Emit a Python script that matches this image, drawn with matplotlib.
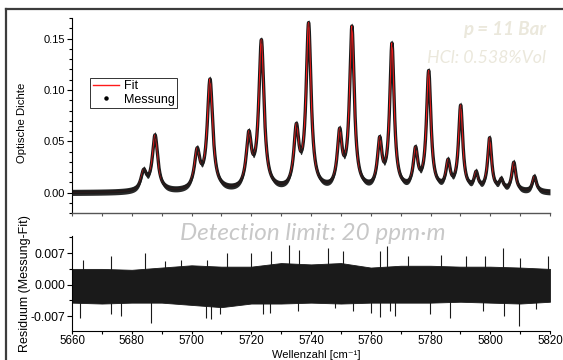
import numpy as np
import matplotlib
matplotlib.use("Agg")
import matplotlib.pyplot as plt
from matplotlib.lines import Line2D
from matplotlib.ticker import MultipleLocator

plt.rcParams["font.family"] = ["Liberation Sans", "DejaVu Sans"]

# ---- data -----------------------------------------------------------------
# absorption lines of the fit (centre [cm-1], amplitude, half width [cm-1])
peak_centers = [5684.0, 5687.8, 5701.9, 5706.2, 5719.2, 5723.4, 5735.1, 5739.2,
                5749.6, 5753.7, 5763.0, 5767.1, 5775.0, 5779.4, 5785.9, 5790.1,
                5795.3, 5799.8, 5803.7, 5807.9, 5814.8]
peak_heights = [0.018, 0.054, 0.036, 0.107, 0.050, 0.144, 0.056, 0.160,
                0.052, 0.157, 0.045, 0.141, 0.037, 0.115, 0.026, 0.082,
                0.016, 0.051, 0.010, 0.028, 0.015]
peak_widths = [1.1, 1.1, 1.1, 1.1, 1.05, 1.05, 1.0, 1.0,
               0.95, 0.95, 0.9, 0.9, 0.9, 0.9, 0.85, 0.85,
               0.8, 0.8, 0.8, 0.8, 0.8]
meas_noise = 0.003           # half thickness of the measured-points band

# residual: dense band envelope
env_wn = [5660, 5670, 5680, 5690, 5700, 5710, 5720, 5730, 5740,
          5750, 5760, 5770, 5780, 5790, 5800, 5810, 5820]
env_hi = [0.0035, 0.0035, 0.0033, 0.0038, 0.0043, 0.0040, 0.0040, 0.0048, 0.0045,
          0.0048, 0.0038, 0.0042, 0.0042, 0.0040, 0.0040, 0.0038, 0.0035]
env_lo = [-0.0040, -0.0042, -0.0040, -0.0040, -0.0045, -0.0050, -0.0042, -0.0042, -0.0040,
          -0.0042, -0.0040, -0.0040, -0.0040, -0.0038, -0.0040, -0.0042, -0.0038]
# residual: individual spikes
spike_wn = [5663.7, 5673.0, 5684.3, 5691.0, 5696.6, 5705.3, 5712.0,
            5662.6, 5673.2, 5676.3, 5686.5, 5705.0, 5706.6, 5709.4,
            5720.0, 5726.5, 5732.6, 5736.0, 5745.7, 5750.7, 5763.0, 5765.5,
            5724.0, 5726.2, 5735.6, 5748.0, 5754.0, 5760.2, 5763.2, 5766.3,
            5772.5, 5783.6, 5792.0, 5798.1, 5804.3, 5809.9, 5819.3,
            5768.0, 5779.7, 5786.4, 5797.6, 5804.5, 5809.6, 5815.4]
spike_val = [0.0055, 0.0063, 0.0070, 0.0052, 0.0055, 0.0055, 0.0070,
             -0.0074, -0.0066, -0.0070, -0.0085, -0.0074, -0.0077, -0.0066,
             0.0070, 0.0074, 0.0088, 0.0077, 0.0082, 0.0074, 0.0074, 0.0085,
             -0.0066, -0.0063, -0.0059, -0.0052, -0.0059, -0.0063, -0.0072, -0.0059,
             0.0063, 0.0066, 0.0063, 0.0063, 0.0081, 0.0059, 0.0063,
             -0.0070, -0.0066, -0.0074, -0.0059, -0.0070, -0.0092, -0.0055]

x_ticks = [5660, 5680, 5700, 5720, 5740, 5760, 5780, 5800, 5820]
top_yticks = [0.00, 0.05, 0.10, 0.15]
bot_yticks = [-0.007, 0.000, 0.007]

# ---- model curve of the fit ----------------------------------------------
wn = np.linspace(x_ticks[0], x_ticks[-1], 4001)
fit = np.zeros_like(wn)
for c, h, g in zip(peak_centers, peak_heights, peak_widths):
    fit += h / (1.0 + ((wn - c) / g) ** 2)

# ---- figure ---------------------------------------------------------------
fig = plt.figure(figsize=(5.63, 3.60), dpi=100)
W, H = 563.0, 360.0

def rect(l, t, r, b):
    return [l / W, 1 - b / H, (r - l) / W, (b - t) / H]

ax1 = fig.add_axes(rect(72, 18, 550, 213.3))
ax2 = fig.add_axes(rect(72, 236.5, 550, 331))

# figure frame (left and top)
fig.add_artist(Line2D([6 / W, 6 / W], [0, 1 - 9 / H], transform=fig.transFigure,
                      color="#3c3c3c", lw=1.6))
fig.add_artist(Line2D([6 / W, 1.0], [1 - 9 / H, 1 - 9 / H], transform=fig.transFigure,
                      color="#3c3c3c", lw=1.6))

# top panel
ax1.plot(wn, fit, color="#1a1a1a", lw=2.4, zorder=1)
ax1.plot(wn, fit, color="#ff1a1a", lw=0.8, zorder=2)
ax1.fill_between(wn, fit - meas_noise, fit + meas_noise, color="#1a1a1a",
                 lw=0, alpha=0.93, zorder=3)
ax1.set_xlim(x_ticks[0], x_ticks[-1])
ax1.set_ylim(-0.02, 0.17)
ax1.set_yticks(top_yticks)
ax1.set_yticklabels(["0.00", "0.05", "0.10", "0.15"])
ax1.yaxis.set_minor_locator(MultipleLocator(0.01))
ax1.xaxis.set_major_locator(MultipleLocator(10))
ax1.tick_params(axis="x", which="both", direction="out", length=2.5, width=0.8,
                labelbottom=False, color="#555555")
ax1.tick_params(axis="y", which="major", direction="out", length=3.5, width=0.8,
                labelsize=8, pad=1.5)
ax1.tick_params(axis="y", which="minor", direction="out", length=2.2, width=0.8)
for s in ("top", "right"):
    ax1.spines[s].set_visible(False)
ax1.spines["left"].set_linewidth(0.8)
ax1.spines["bottom"].set_linewidth(1.0)
ax1.spines["bottom"].set_color("#555555")

h_fit = Line2D([], [], color="#ff1a1a", lw=1.0)
h_meas = Line2D([], [], color="black", marker="o", ms=2.2, lw=0)
leg = ax1.legend([h_fit, h_meas], ["Fit", "Messung"], loc="upper left",
                 bbox_to_anchor=(0.0377, 0.694), fontsize=9, frameon=True,
                 fancybox=False, borderpad=0.2, labelspacing=0.1,
                 handlelength=2.1, handletextpad=0.4, borderaxespad=0)
leg.get_frame().set_edgecolor("black")
leg.get_frame().set_linewidth(0.7)

# bottom panel
ax2.fill_between(env_wn, env_lo, env_hi, color="#1a1a1a", lw=0.6,
                 edgecolor="#1a1a1a")
ax2.vlines(spike_wn, 0, spike_val, color="#1a1a1a", lw=0.8)
ax2.set_xlim(x_ticks[0], x_ticks[-1])
ax2.set_ylim(-0.0103, 0.0107)
ax2.set_xticks(x_ticks)
ax2.xaxis.set_minor_locator(MultipleLocator(10))
ax2.set_yticks(bot_yticks)
ax2.set_yticklabels(["-0.007", "0.000", "0.007"])
ax2.yaxis.set_minor_locator(MultipleLocator(0.0035))
ax2.tick_params(axis="y", which="major", direction="out", length=3.5, width=0.8,
                labelsize=8.8, pad=1.5)
ax2.tick_params(axis="x", which="major", direction="out", length=2.5, width=0.8,
                labelsize=8.3, pad=0.3)
ax2.tick_params(axis="both", which="minor", direction="out", length=2.2, width=0.8)
for s in ("top", "right"):
    ax2.spines[s].set_visible(False)
for s in ("left", "bottom"):
    ax2.spines[s].set_linewidth(0.8)

# labels
fig.text(22.5 / W, 1 - 123 / H, "Optische Dichte", rotation=90, ha="center",
         va="center", fontsize=8.2)
fig.text(25 / W, 1 - 284 / H, "Residuum (Messung-Fit)", rotation=90, ha="center",
         va="center", fontsize=9)
fig.text(316 / W, 1 - 359.8 / H, "Wellenzahl [cm\u207b\u00b9]", ha="center", va="bottom",
         fontsize=8)

# annotations
fig.text(545.7 / W, 1 - 30 / H, "p = 11 Bar", ha="right", va="center",
         fontsize=13.5, family="Lato", style="italic", weight="bold", color="#ebe8dc")
fig.text(545.7 / W, 1 - 58.3 / H, "HCl: 0.538%Vol", ha="right", va="center",
         fontsize=12.8, family="Lato", style="italic", color="#ebe8dc")
fig.text(313 / W, 1 - 233 / H, "Detection limit: 20 ppm\u00b7m", ha="center",
         va="center", fontsize=17.5, family="Lato", style="italic", color="#c8c8c8")

fig.savefig("out.png", dpi=100)
